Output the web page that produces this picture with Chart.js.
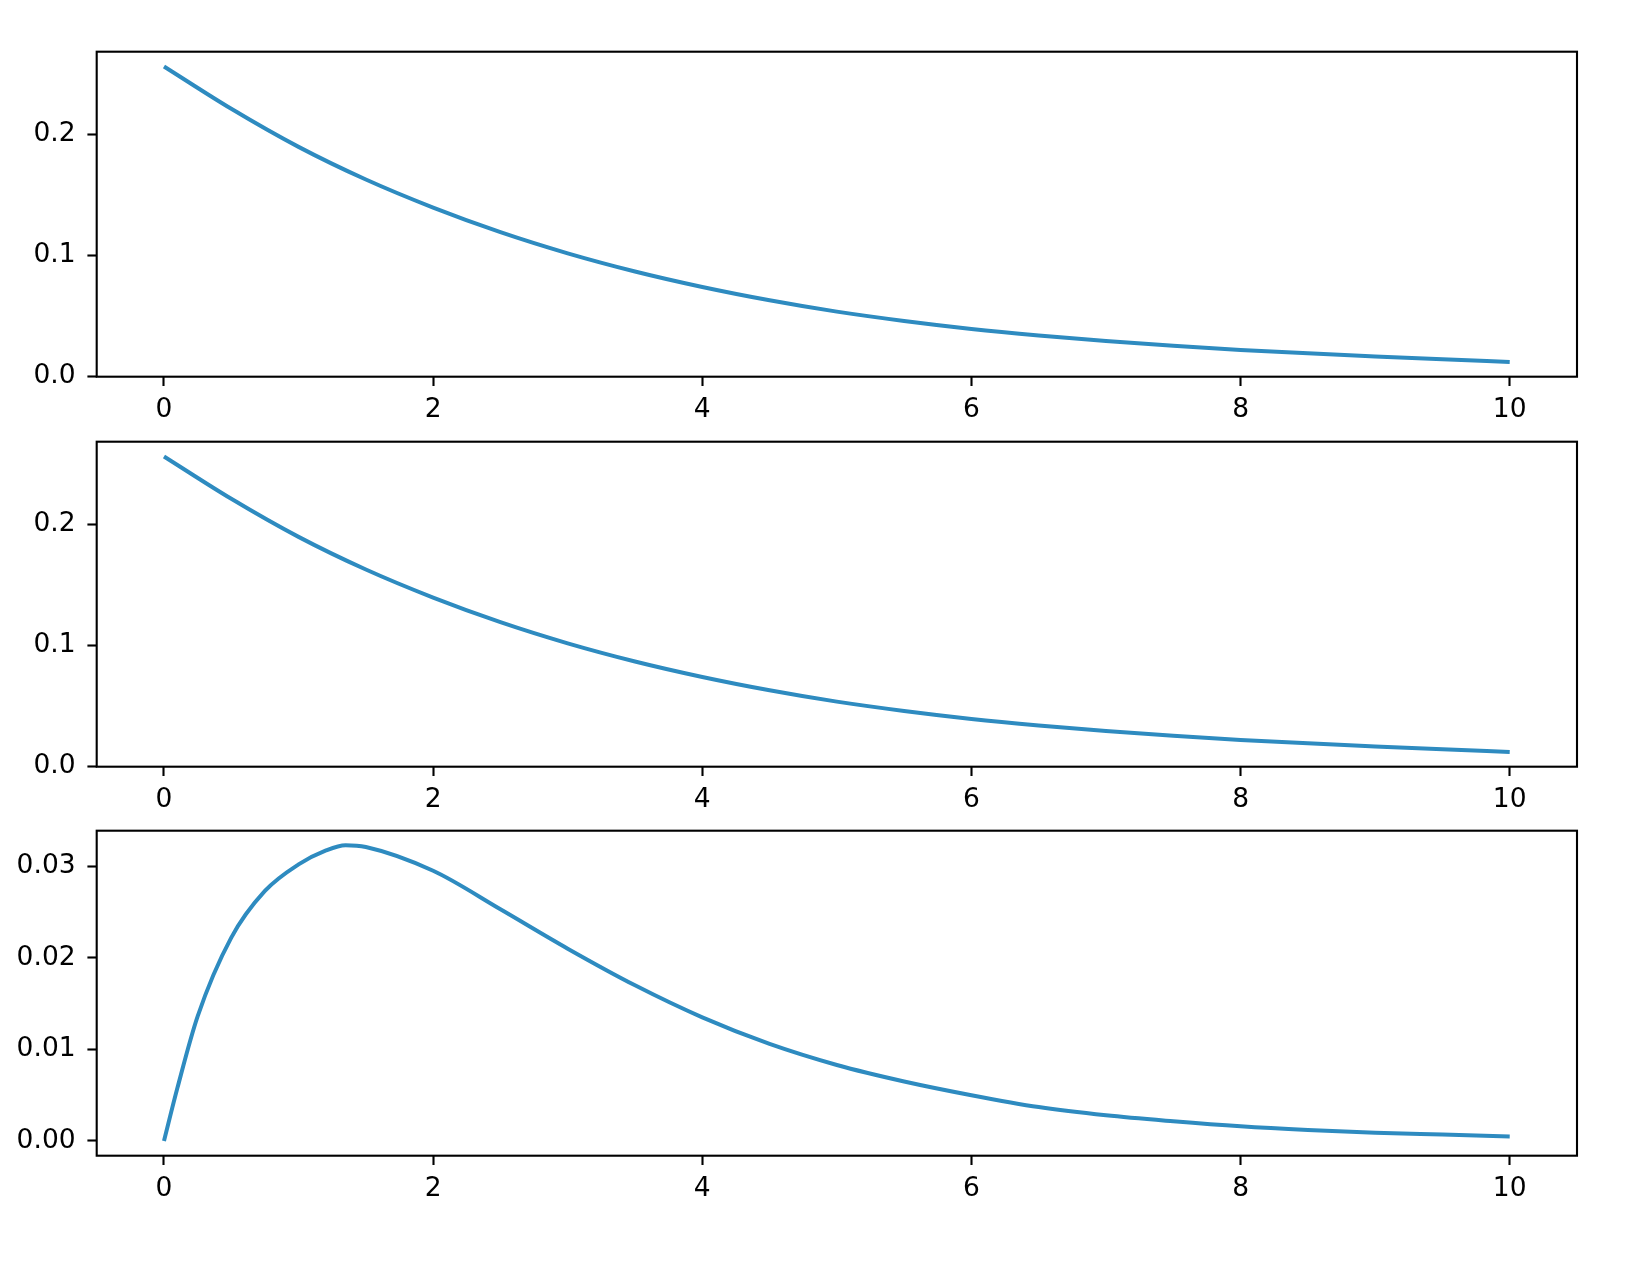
<!DOCTYPE html>
<html>
<head>
<meta charset="utf-8">
<script src="https://cdn.jsdelivr.net/npm/chart.js@4"></script>
<style>
  html, body { margin: 0; padding: 0; background: #ffffff; }
  body { width: 1638px; height: 1266px; position: relative; overflow: hidden; }
  .panel { position: absolute; left: 0; width: 1638px; height: 440px; }
</style>
</head>
<body>
<div class="panel" style="top:0px"><canvas id="c1"></canvas></div>
<div class="panel" style="top:390px"><canvas id="c2"></canvas></div>
<div class="panel" style="top:779px"><canvas id="c3"></canvas></div>
<script>
// ---- data ----
const xDecay = [0, 0.5, 1, 1.5, 2, 2.5, 3, 3.5, 4, 4.5, 5, 5.5, 6, 6.5, 7, 7.5, 8, 8.5, 9, 9.5, 10];
const yDecay1 = [0.256, 0.221, 0.1895, 0.1625, 0.1393, 0.119, 0.1015, 0.0865, 0.0737, 0.0627, 0.0533, 0.0456, 0.039, 0.0336, 0.029, 0.025, 0.0216, 0.0188, 0.0163, 0.0139, 0.0117];
const yDecay2 = [0.256, 0.221, 0.1895, 0.1625, 0.1393, 0.119, 0.1015, 0.0865, 0.0737, 0.0627, 0.0533, 0.0456, 0.039, 0.0336, 0.029, 0.025, 0.0216, 0.0188, 0.0163, 0.0139, 0.0117];
const xPeak = [0, 0.1, 0.25, 0.5, 0.75, 1, 1.2, 1.35, 1.5, 2, 2.5, 3, 3.5, 4, 4.5, 5, 5.5, 6, 6.5, 7, 7.5, 8, 8.5, 9, 9.5, 10];
const yPeak = [0, 0.0058, 0.0136, 0.0222, 0.0273, 0.0302, 0.0317, 0.0323, 0.0321, 0.0295, 0.0253, 0.0210, 0.0170, 0.0135, 0.0106, 0.0083, 0.0065, 0.0050, 0.0037, 0.0028, 0.00215, 0.0016, 0.0012, 0.0009, 0.0007, 0.0005];
const xTicks = [0, 2, 4, 6, 8, 10];
const xTickLabels = ['0', '2', '4', '6', '8', '10'];
const yTicksA = [0, 0.1, 0.2];
const yTickLabelsA = ['0.0', '0.1', '0.2'];
const yTicksB = [0, 0.01, 0.02, 0.03];
const yTickLabelsB = ['0.00', '0.01', '0.02', '0.03'];

// ---- styling ----
const LINE_COLOR = '#2e8bc0';
const FONT = { family: '"DejaVu Sans", sans-serif', size: 26.5 };

const framePlugin = {
  id: 'frame',
  afterDatasetsDraw(chart) {
    const a = chart.chartArea, ctx = chart.ctx;
    ctx.save();
    ctx.strokeStyle = '#000';
    ctx.lineWidth = 2.1;
    ctx.strokeRect(a.left, a.top, a.right - a.left, a.bottom - a.top);
    ctx.restore();
  }
};

function makeChart(id, xs, ys, yMin, yMax, yTicks, yLabels) {
  const pts = xs.map((x, i) => ({ x: x, y: ys[i] }));
  return new Chart(document.getElementById(id), {
    type: 'line',
    data: { datasets: [{
      data: pts,
      borderColor: LINE_COLOR,
      borderWidth: 4,
      pointRadius: 0,
      fill: false,
      cubicInterpolationMode: 'monotone'
    }]},
    options: {
      responsive: true,
      maintainAspectRatio: false,
      animation: false,
      events: [],
      layout: { padding: { top: 51.7, right: 61, bottom: 3.3, left: 0 } },
      plugins: { legend: { display: false }, tooltip: { enabled: false } },
      scales: {
        x: {
          type: 'linear', min: -0.5, max: 10.5,
          afterBuildTicks: s => { s.ticks = xTicks.map(v => ({ value: v })); },
          afterFit: s => { s.height = 60; },
          border: { display: false },
          grid: { drawOnChartArea: false, drawTicks: true, tickLength: 9.3, tickWidth: 2.1, tickColor: '#000', color: '#000' },
          ticks: { color: '#000', font: FONT, padding: 8, maxRotation: 0, autoSkip: false,
                   callback: (v, i) => xTickLabels[i] }
        },
        y: {
          type: 'linear', min: yMin, max: yMax,
          afterBuildTicks: s => { s.ticks = yTicks.map(v => ({ value: v })); },
          afterFit: s => { s.width = 96.7; },
          border: { display: false },
          grid: { drawOnChartArea: false, drawTicks: true, tickLength: 9.3, tickWidth: 2.1, tickColor: '#000', color: '#000' },
          ticks: { color: '#000', font: FONT, padding: 11.8, autoSkip: false,
                   callback: (v, i) => yLabels[i] }
        }
      }
    },
    plugins: [framePlugin]
  });
}

makeChart('c1', xDecay, yDecay1, -0.0005, 0.2682, yTicksA, yTickLabelsA);
makeChart('c2', xDecay, yDecay2, -0.0005, 0.2682, yTicksA, yTickLabelsA);
makeChart('c3', xPeak, yPeak, -0.00161, 0.03388, yTicksB, yTickLabelsB);
</script>
</body>
</html>
